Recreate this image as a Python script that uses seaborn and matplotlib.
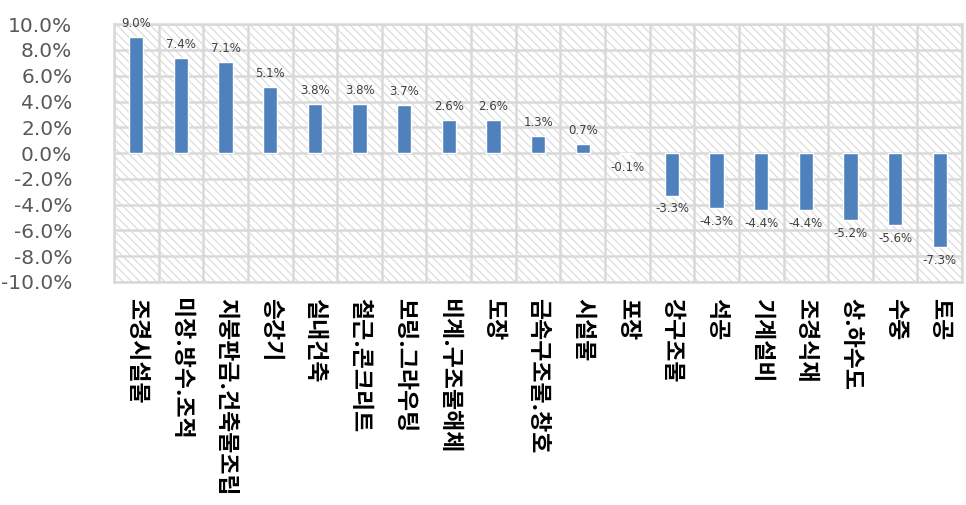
import matplotlib
matplotlib.use("Agg")
import matplotlib.pyplot as plt
import seaborn as sns
import pandas as pd
import numpy as np
from matplotlib.ticker import FixedLocator

categories = ["조경시설물", "미장.방수.조적", "지붕판금.건축물조립", "승강기", "실내건축",
              "철근.콘크리트", "보링.그라우팅", "비계.구조물해체", "도장", "금속구조물.창호",
              "시설물", "포장", "강구조물", "석공", "기계설비", "조경식재", "상.하수도",
              "수중", "토공"]
values = [9.0, 7.4, 7.1, 5.1, 3.8, 3.8, 3.7, 2.6, 2.6, 1.3, 0.7, -0.1,
          -3.3, -4.3, -4.4, -4.4, -5.2, -5.6, -7.3]
yticks = [10, 8, 6, 4, 2, 0, -2, -4, -6, -8, -10]

sns.set_theme(style="white")
plt.rcParams["font.family"] = ["Noto Sans CJK KR", "DejaVu Sans"]
plt.rcParams["hatch.color"] = "#dcdcdc"
plt.rcParams["hatch.linewidth"] = 0.9

df = pd.DataFrame({"category": categories, "value": values})

fig = plt.figure(figsize=(9.66, 5.05), dpi=100)
ax = fig.add_axes([0.118, 0.442, 0.878, 0.510])

# finely hatched plot background
ax.patch.set_facecolor("white")
ax.patch.set_hatch("\\\\\\\\")
ax.patch.set_edgecolor("#dcdcdc")

sns.barplot(data=df, x="category", y="value", color="#4f81bd",
            width=0.32, saturation=1, ax=ax, zorder=3)

ax.set_ylim(-10, 10)
ax.set_xlim(-0.5, len(categories) - 0.5)
ax.set_yticks(yticks)
ax.set_yticklabels([f"{t:.1f}%" for t in yticks], fontsize=14.5, color="#595959",
                   family=["DejaVu Sans"])
ax.xaxis.set_minor_locator(FixedLocator(np.arange(-0.5, len(categories), 1)))
ax.grid(True, axis="y", which="major", color="#d9d9d9", linewidth=1.8, zorder=1)
ax.grid(True, axis="x", which="minor", color="#d9d9d9", linewidth=1.8, zorder=1)
ax.grid(False, axis="x", which="major")
ax.set_axisbelow(True)

ax.set_xticks(range(len(categories)))
ax.set_xticklabels(categories, rotation=-90, fontsize=16.5, color="black",
                   fontweight="bold", ha="center", va="top")
ax.tick_params(axis="x", which="both", length=0, pad=12)
ax.tick_params(axis="y", length=0, pad=30)
ax.set_xlabel("")
ax.set_ylabel("")

for s in ax.spines.values():
    s.set_color("#d9d9d9")
    s.set_linewidth(1.8)

for cont in ax.containers:
    ax.bar_label(cont, labels=[f"{v:.1f}%" for v in values], padding=5,
                 fontsize=8.5, color="#404040", family=["DejaVu Sans"])

fig.savefig("out.png", dpi=100)
